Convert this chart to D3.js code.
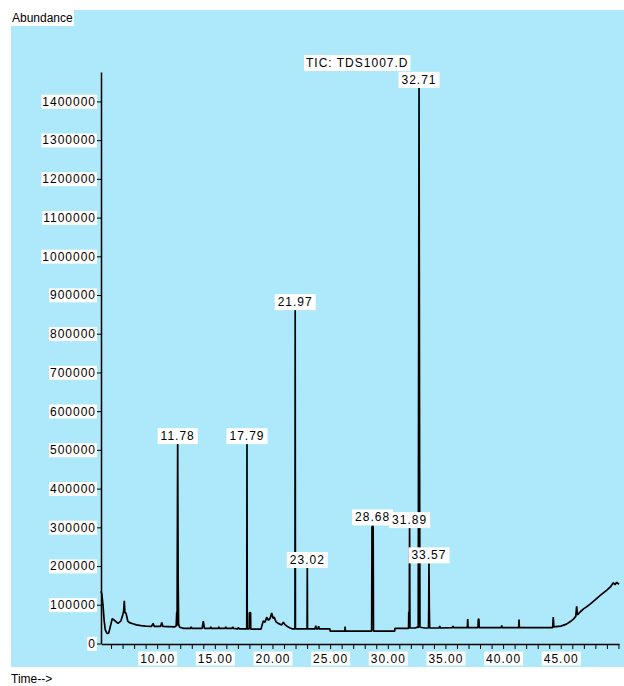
<!DOCTYPE html>
<html>
<head>
<meta charset="utf-8">
<script src="https://cdn.jsdelivr.net/npm/d3@7"></script>
<style>
  body { margin: 0; background: #fff; }
  svg text { font-family: "Liberation Sans", Arial, sans-serif; font-size: 12px; fill: #000; letter-spacing: 1px; }
</style>
</head>
<body>
<svg id="chart" width="624" height="686"></svg>
<script>
// chromatogram trace (minutes, abundance)
var traceTimes = [5.13, 5.2, 5.3, 5.4, 5.5, 5.65, 5.8, 5.95, 6.1, 6.3, 6.6, 6.85, 7.0, 7.1, 7.15, 7.2, 7.3, 7.45, 7.6, 7.9,
    8.2, 8.6, 9.0, 9.5, 9.65, 9.75, 10.3, 10.4, 10.5, 11.5, 11.65, 11.7, 11.73, 11.74, 11.78, 11.82, 11.86, 11.95, 12.3,
    12.9, 12.95, 13.0, 13.9, 14.0, 14.1, 14.6, 14.65, 14.7, 15.3, 15.35, 15.4, 15.9, 15.95, 16.0, 16.5, 16.55, 16.6,
    17.0, 17.05, 17.1, 17.77, 17.79, 17.81, 17.98, 18.0, 18.1, 18.12, 19.0, 19.2, 19.35, 19.5, 19.65, 19.8, 19.93, 20.05,
    20.15, 20.3, 20.5, 20.8, 20.95, 21.1, 21.4, 21.7, 21.95, 21.97, 21.99, 23.0, 23.02, 23.04, 23.7, 23.75, 23.8, 23.95,
    24.0, 24.05, 24.98, 25.0, 26.28, 26.3, 26.32, 28.6, 28.63, 28.68, 28.73, 28.76, 30.6, 30.62, 31.8, 31.82, 31.86,
    31.89, 31.92, 32.4, 32.6, 32.64, 32.66, 32.71, 32.76, 32.79, 33.2, 33.53, 33.55, 33.57, 33.6, 33.63, 34.45, 34.5,
    34.55, 35.6, 35.65, 35.7, 36.9, 36.93, 36.96, 37.82, 37.85, 37.9, 37.93, 39.85, 39.88, 39.92, 41.35, 41.38, 41.41,
    44.3, 44.35, 44.4, 45.0, 45.5, 45.8, 46.1, 46.3, 46.38, 46.45, 46.7, 47.0, 47.25, 47.6, 48.1, 48.5, 49.0, 49.3,
    49.56, 49.7, 49.85, 50.05];
var traceAbund = [135000, 128000, 100000, 60000, 35000, 26000, 27000, 45000, 64000, 60000, 52000, 58000, 72000, 85000, 110000, 80000, 78000, 58000, 54000, 51000,
    48000, 46000, 45000, 44000, 52000, 44000, 44000, 54000, 44000, 43000, 45000, 82000, 46000, 170000, 515000, 170000, 50000, 42000, 39000,
    39000, 43000, 39000, 39000, 58000, 39000, 39000, 43000, 39000, 39000, 43000, 39000, 39000, 43000, 39000, 39000, 43000, 39000,
    38000, 42000, 38000, 38000, 515000, 38000, 38000, 80000, 80000, 37000, 37000, 58000, 55000, 68000, 60000, 65000, 79000, 65000,
    68000, 56000, 52000, 48000, 55000, 48000, 42000, 38000, 38000, 861000, 38000, 38000, 195000, 38000, 38000, 46000, 38000, 38000,
    45000, 38000, 38000, 32000, 32000, 44000, 32000, 32000, 300000, 305000, 300000, 32000, 32000, 39000, 39000, 82000, 45000,
    298000, 40000, 40000, 43000, 40000, 448000, 1435000, 448000, 42000, 40000, 40000, 90000, 207000, 90000, 40000, 40000, 45000,
    40000, 41000, 45000, 41000, 41000, 63000, 41000, 41000, 63000, 63000, 41000, 41000, 47000, 41000, 41000, 62000, 41000,
    41000, 68000, 43000, 45000, 50000, 56000, 63000, 70000, 96000, 74000, 82000, 90000, 95000, 103000, 116000, 126000, 138000, 146000,
    157000, 152000, 158000, 153000];

var peakTimes = [11.78, 17.79, 21.97, 23.02, 28.68, 31.89, 32.71, 33.57];
var peakLabels = ["11.78", "17.79", "21.97", "23.02", "28.68", "31.89", "32.71", "33.57"];

var yTickValues = [0, 100000, 200000, 300000, 400000, 500000, 600000, 700000, 800000, 900000, 1000000, 1100000, 1200000, 1300000, 1400000];
var xTickValues = d3.range(6, 51);
var xLabelValues = [10, 15, 20, 25, 30, 35, 40, 45];

var svg = d3.select("#chart");

// blue plot background
svg.append("rect").attr("x", 11).attr("y", 10).attr("width", 613).attr("height", 657).attr("fill", "#aee8fb");

var x = d3.scaleLinear().domain([5.13, 50.05]).range([101, 619]);
var y = d3.scaleLinear().domain([0, 1476000]).range([643.5, 72]);

// puts a white box behind a text node
function boxText(sel, padX, padY) {
    sel.each(function () {
        var node = this;
        var bb = node.getBBox();
        d3.select(node.parentNode).insert("rect", function () { return node; })
            .attr("x", bb.x - padX).attr("y", bb.y - padY)
            .attr("width", bb.width + padX * 2).attr("height", bb.height + padY * 2)
            .attr("fill", "#fff");
    });
}

// y axis
var yAxis = d3.axisLeft(y).tickValues(yTickValues).tickSize(4).tickSizeOuter(0).tickPadding(1)
    .tickFormat(d3.format("d"));
var gy = svg.append("g").attr("transform", "translate(101,0)").call(yAxis);
gy.select(".domain").attr("stroke", "#000").attr("stroke-width", 1.5);
gy.selectAll(".tick line").attr("stroke", "#000");
gy.selectAll("text").attr("font-family", null).attr("font-size", null);
boxText(gy.selectAll(".tick text"), 1, 0);

// x axis
var xAxis = d3.axisBottom(x).tickValues(xTickValues).tickSize(5).tickSizeOuter(0).tickPadding(5)
    .tickFormat(function (d) { return xLabelValues.indexOf(d) >= 0 ? d3.format(".2f")(d) : ""; });
var gx = svg.append("g").attr("transform", "translate(0,644)").call(xAxis);
gx.select(".domain").attr("stroke", "#000").attr("stroke-width", 1.5);
gx.selectAll(".tick line").attr("stroke", "#000");
gx.selectAll("text").attr("font-family", null).attr("font-size", null);
boxText(gx.selectAll(".tick text").filter(function (d) { return xLabelValues.indexOf(d) >= 0; }), 2, 0);

// the trace
var pts = traceTimes.map(function (t, i) { return [t, traceAbund[i]]; });
svg.append("path")
    .datum(pts)
    .attr("fill", "none")
    .attr("stroke", "#000")
    .attr("stroke-width", 1.7)
    .attr("stroke-linejoin", "bevel")
    .attr("d", d3.line().x(function (d) { return x(d[0]); }).y(function (d) { return y(d[1]); }));

// peak labels sit right on top of each peak
var gl = svg.append("g");
peakTimes.forEach(function (t, i) {
    var top = d3.max(pts.filter(function (p) { return Math.abs(p[0] - t) < 0.05; }), function (p) { return p[1]; });
    var lt = gl.append("text")
        .attr("x", x(t))
        .attr("y", y(top) - 4)
        .attr("text-anchor", "middle")
        .text(peakLabels[i]);
    boxText(lt, 3, 1);
});

// title and axis captions
var title = svg.append("text").attr("x", 306).attr("y", 67).text("TIC: TDS1007.D");
boxText(title, 2, 1);
var ab = svg.append("text").attr("x", 12).attr("y", 22).style("letter-spacing", "0px").text("Abundance");
boxText(ab, 1, 1);
svg.append("text").attr("x", 11).attr("y", 683).style("letter-spacing", "0px").text("Time-->");
</script>
</body>
</html>
